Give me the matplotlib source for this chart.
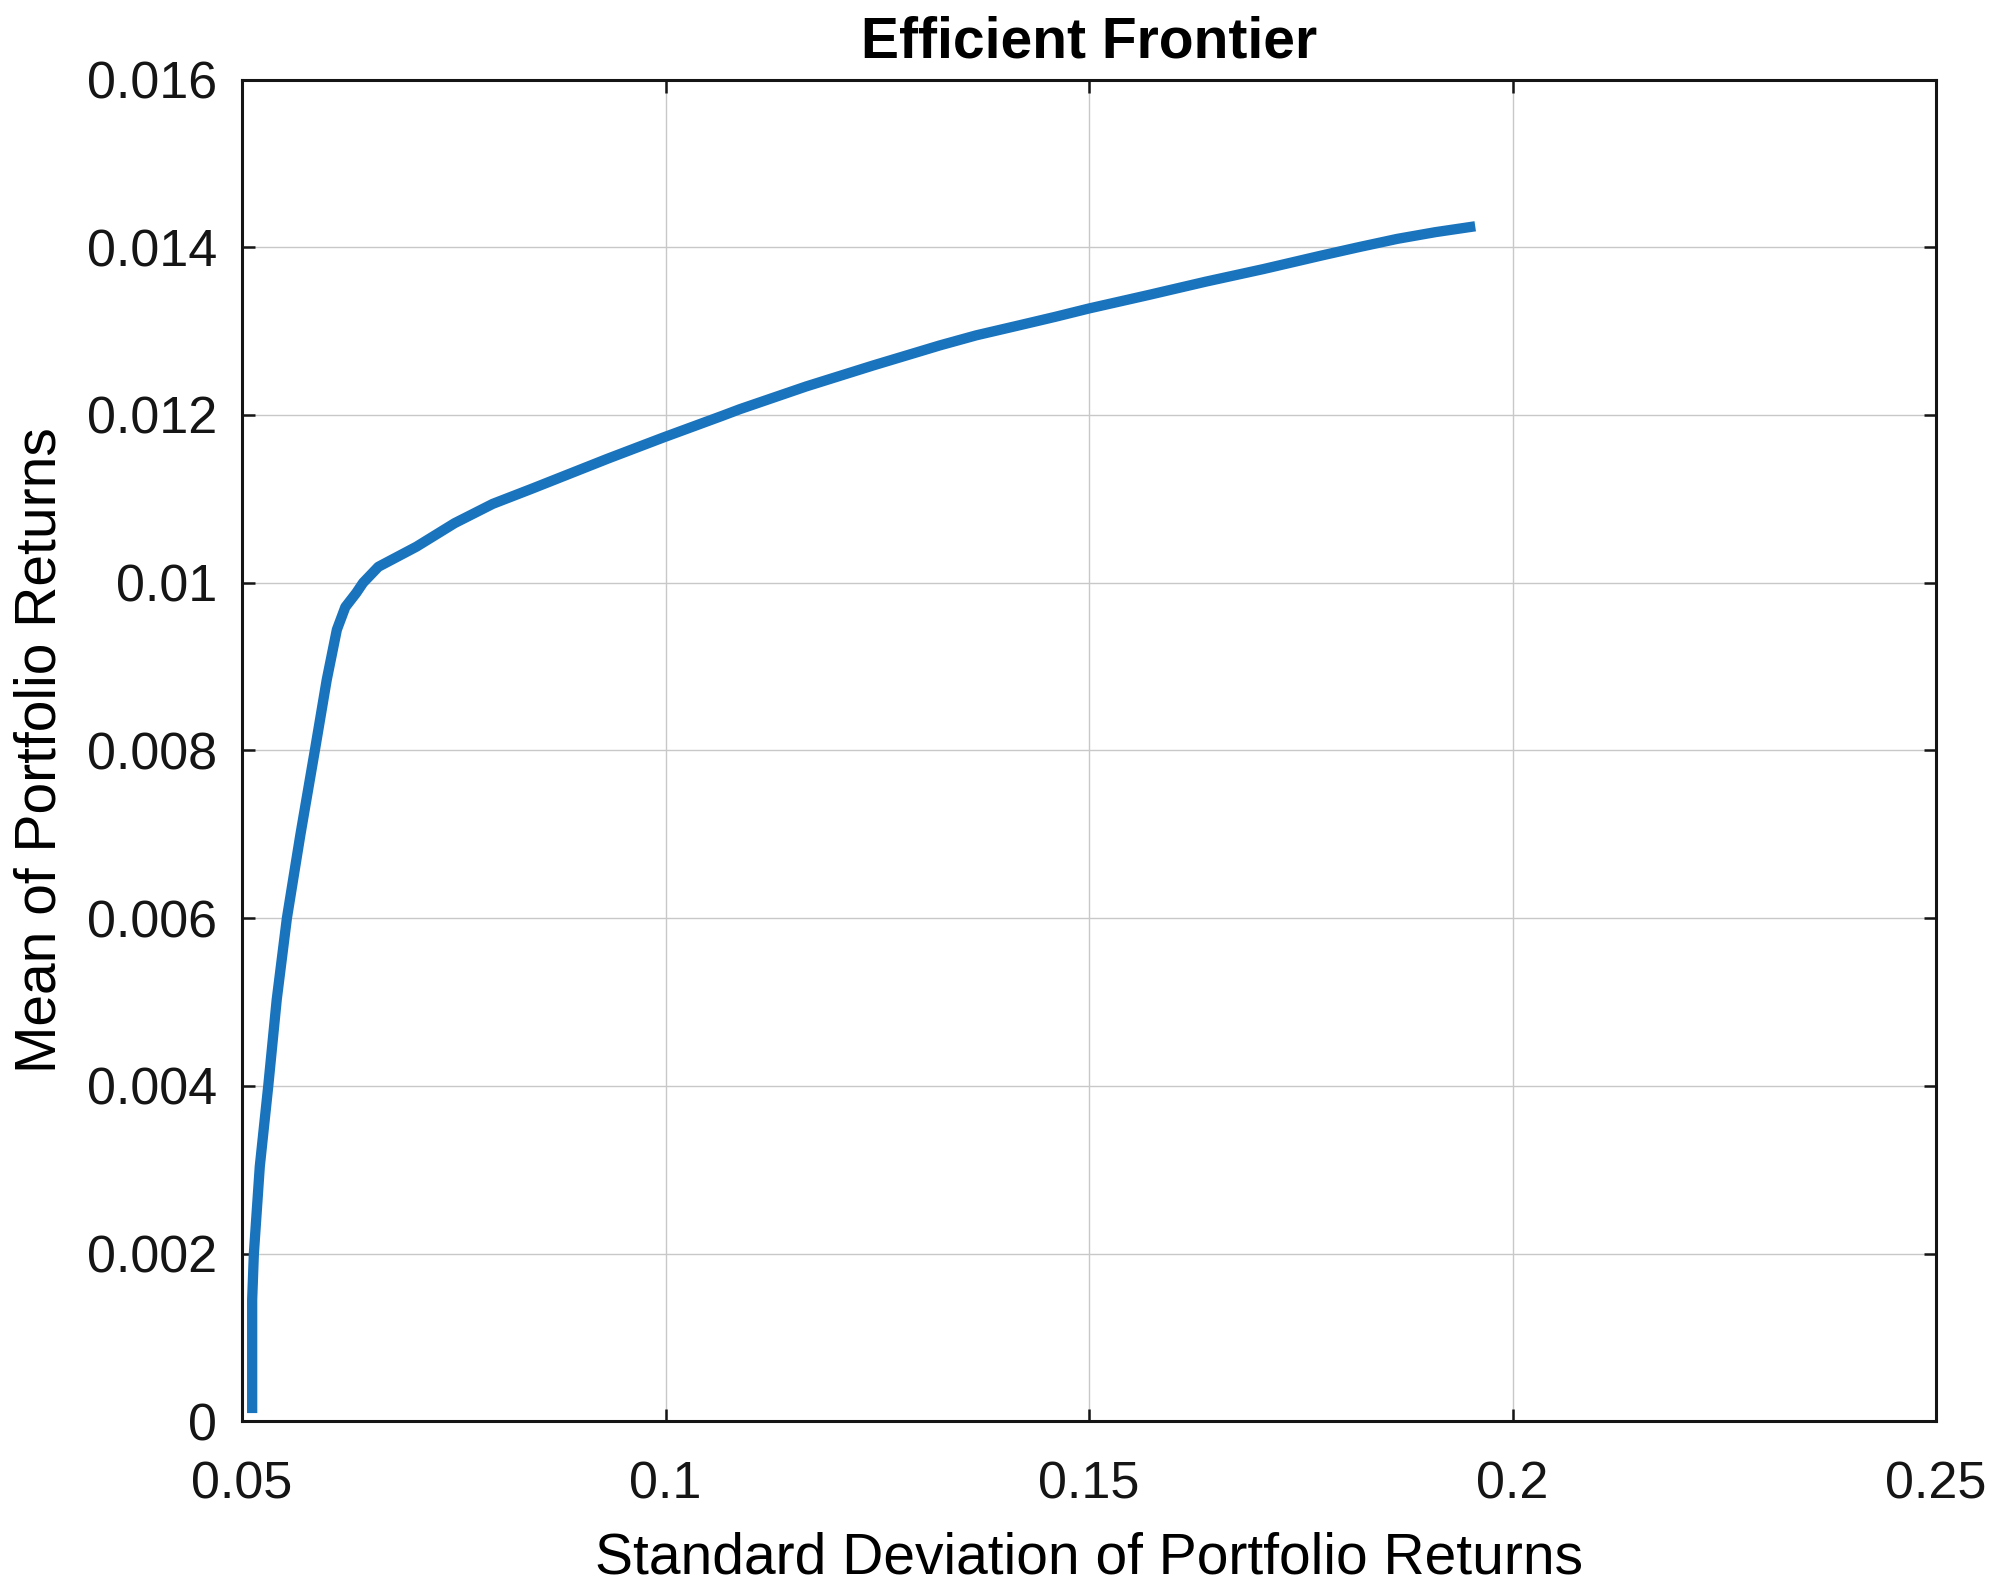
import matplotlib
matplotlib.use('Agg')
import matplotlib.pyplot as plt

# efficient frontier
port_std = [0.0512, 0.0512, 0.0514, 0.0521, 0.0531, 0.0541, 0.0553, 0.0569,
            0.0586, 0.0600, 0.0612, 0.0622, 0.0635, 0.0643, 0.0661, 0.0706,
            0.0751, 0.0796, 0.0842, 0.0887, 0.0932, 0.0997, 0.1067, 0.1088,
            0.1166, 0.1245, 0.1324, 0.1367, 0.1418, 0.1460, 0.1500, 0.1570,
            0.1638, 0.1706, 0.1774, 0.1818, 0.1864, 0.1909, 0.1956]
port_mean = [0.0001, 0.00145, 0.0020, 0.00304, 0.0040, 0.00503, 0.0060, 0.0070,
             0.0080, 0.00884, 0.00944, 0.00971, 0.00988, 0.0100, 0.01019, 0.01043,
             0.01071, 0.01094, 0.01112, 0.0113, 0.01148, 0.01173, 0.01199, 0.01207,
             0.01234, 0.01259, 0.01283, 0.01295, 0.01307, 0.01317, 0.01327, 0.01343,
             0.01359, 0.01374, 0.0139, 0.0140, 0.0141, 0.01418, 0.01425]

x_ticks = [0.05, 0.1, 0.15, 0.2, 0.25]
x_labels = ['0.05', '0.1', '0.15', '0.2', '0.25']
y_ticks = [0, 0.002, 0.004, 0.006, 0.008, 0.01, 0.012, 0.014, 0.016]
y_labels = ['0', '0.002', '0.004', '0.006', '0.008', '0.01', '0.012', '0.014', '0.016']

plt.rcParams['font.family'] = ['Liberation Sans', 'DejaVu Sans']

fig = plt.figure(figsize=(20, 15.9), dpi=100)
ax = fig.add_axes([0.121, 0.106, 0.847, 0.844])

ax.plot(port_std, port_mean, color='#1a74bd', linewidth=7.4, solid_capstyle='butt',
        solid_joinstyle='round')

ax.set_xlim(0.05, 0.25)
ax.set_ylim(0, 0.016)
ax.set_xticks(x_ticks)
ax.set_xticklabels(x_labels)
ax.set_yticks(y_ticks)
ax.set_yticklabels(y_labels)

ax.grid(True, color='#c8c8c8', linewidth=1.0)
ax.set_axisbelow(True)
for sp in ax.spines.values():
    sp.set_linewidth(2.2)
    sp.set_color('#151515')
ax.tick_params(direction='in', length=9, width=1.8, top=True, right=True,
               labelsize=37.5, color='#151515', labelcolor='#151515')
ax.tick_params(axis='x', pad=28)
ax.tick_params(axis='y', pad=18)

ax.set_title('Efficient Frontier', fontsize=41, fontweight='bold', pad=16)
ax.set_xlabel('Standard Deviation of Portfolio Returns', fontsize=41, labelpad=16)
ax.set_ylabel('Mean of Portfolio Returns', fontsize=41, labelpad=14)

fig.savefig('out.png', dpi=100)
plt.close(fig)
